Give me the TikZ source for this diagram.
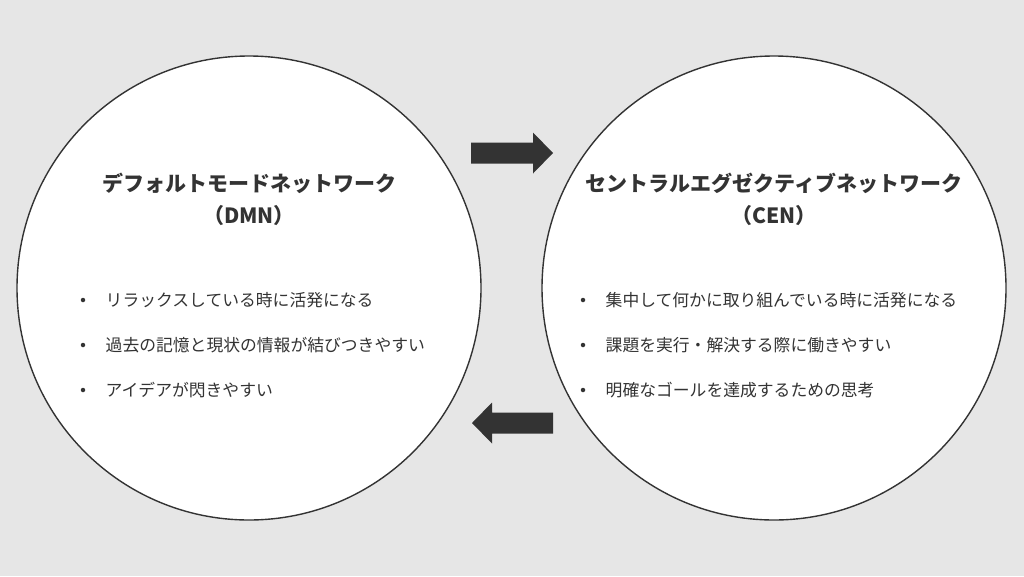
\documentclass[tikz,border=0pt]{standalone}
\usepackage{fontspec}
\newfontfamily\jpfont{Noto Sans CJK JP}
\definecolor{paper}{HTML}{E6E6E6}
\definecolor{ink}{HTML}{333333}

\begin{document}
\begin{tikzpicture}[x = 1pt, y = -1pt, % one unit = one pixel, y downwards
                line width = 1.4pt % line style
            ]

            \tikzstyle{network}=[draw = ink, fill = white, circle, inner sep = 0pt,
            minimum size = 464pt]
            \tikzstyle{title}=[font = \jpfont\bfseries\fontsize{21}{32}\selectfont,
            text = ink, align = center]
            \tikzstyle{item}=[font = \jpfont\fontsize{16.8}{20}\selectfont,
            text = ink, anchor = west, inner sep = 0pt]
            \tikzstyle{dot}=[fill = ink, circle, inner sep = 0pt, minimum size = 4.5pt]

            \fill[paper] (0,0) rectangle (1024,576);
            \useasboundingbox (0,0) rectangle (1024,576);

            \node[network] (dmn) at (249,288) {}; \node[network] (cen) at
            (774,288) {};

            \node[title] (dmn title) at (249,199)
            {デフォルトモードネットワーク\\（DMN）};
            \node[title] (cen title) at (774,199)
            {セントラルエグゼクティブネットワーク\\（CEN）};

            % bullet lists
            \foreach \txt [count=\i] in {リラックスしている時に活発になる,
                過去の記憶と現状の情報が結びつきやすい, アイデアが閃きやすい} {
                \node[dot] (dmn dot \i) at (83,255+45*\i) {};
                \node[item] (dmn item \i) at (105,255+45*\i) {\txt};
            }
            \foreach \txt [count=\i] in {集中して何かに取り組んでいる時に活発になる,
                課題を実行・解決する際に働きやすい, 明確なゴールを達成するための思考} {
                \node[dot] (cen dot \i) at (583,255+45*\i) {};
                \node[item] (cen item \i) at (605,255+45*\i) {\txt};
            }

            % block arrows between the two networks
            \coordinate (to cen) at (471,153); \coordinate (to dmn) at (472,423);

            \fill[ink] (to cen) ++(0,-10.5) -- ++(62,0) -- ++(0,-10) --
            ++(20,20.5) -- ++(-20,20.5) -- ++(0,-10) -- ++(-62,0) -- cycle;
            \fill[ink] (to dmn) -- ++(20,-20.5) -- ++(0,10) -- ++(61,0) --
            ++(0,21) -- ++(-61,0) -- ++(0,10) -- cycle;
        \end{tikzpicture}
\end{document}
